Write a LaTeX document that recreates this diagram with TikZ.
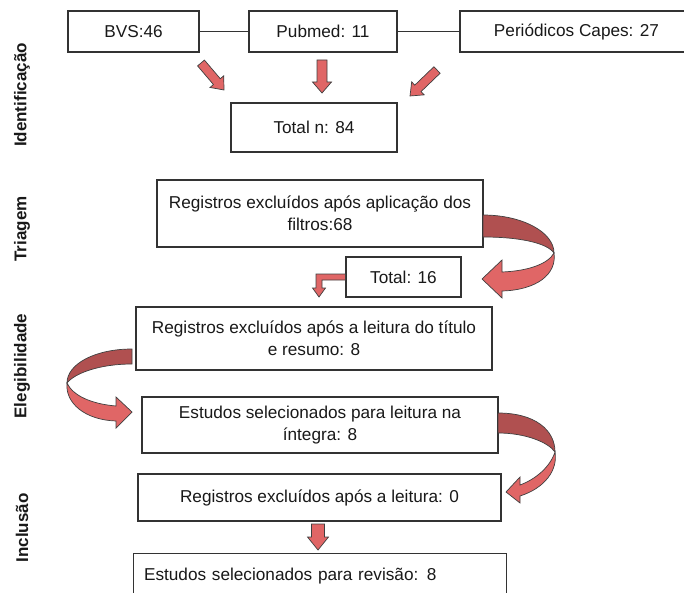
\documentclass[tikz,border=0pt]{standalone}
\usepackage{fontspec}
\setmainfont{Liberation Sans}
\usetikzlibrary{calc}
\definecolor{arrlight}{HTML}{E06666}
\definecolor{arrdark}{HTML}{B05050}
\definecolor{edgecol}{HTML}{333333}
\newcommand{\blockarr}[5]{%
  \coordinate (bC) at ($(#2)!#5!(#1)$);
  \draw[blk] ($(#1)!#3!90:(#2)$) -- ($(bC)!#3!90:(#2)$) -- ($(bC)!#4!90:(#2)$) -- (#2)
    -- ($(bC)!#4!-90:(#2)$) -- ($(bC)!#3!-90:(#2)$) -- ($(#1)!#3!-90:(#2)$) -- cycle;}
\begin{document}
\begin{tikzpicture}[x=1pt,y=-1pt,
  box/.style={draw=edgecol, line width=1.1pt, fill=white, inner sep=0pt, align=center,
    font=\fontsize{17.2}{22}\selectfont, text=black!90},
  lab/.style={rotate=90, font=\fontsize{17}{20}\selectfont\bfseries, text=black!90},
  conn/.style={draw=edgecol, line width=1pt},
  blk/.style={fill=arrlight, draw=black!75, line width=0.7pt, line join=miter},
  dk/.style={fill=arrdark, draw=black!75, line width=0.7pt}]
\useasboundingbox (0,0) rectangle (684,593);

% labels
\node[lab] (lid) at (22,95) {Identificação};
\node[lab] (ltr) at (22,229) {Triagem};
\node[lab] (lel) at (22,366) {Elegibilidade};
\node[lab] (lin) at (22,528) {Inclusão};

% boxes
\node[box, minimum width=131pt, minimum height=41pt] (bvs) at (133.5,31.5) {BVS:46};
\node[box, minimum width=148pt, minimum height=41pt] (pub) at (323,31.5) {Pubmed: 11};
\node[box, minimum width=233pt, minimum height=41pt] (cap) at (576.5,31.5) {Periódicos Capes: 27};
\node[box, minimum width=166pt, minimum height=49pt] (tot) at (314,127.5) {Total n: 84};
\node[box, minimum width=326pt, minimum height=67pt] (fil) at (320,213.5) {Registros excluídos após aplicação dos\\filtros:68};
\node[box, minimum width=115pt, minimum height=40pt] (t16) at (403.5,277) {Total: 16};
\node[box, minimum width=356pt, minimum height=63pt] (tit) at (314,338.5) {Registros excluídos após a leitura do título\\e resumo: 8};
\node[box, minimum width=356pt, minimum height=56pt] (int) at (320,425) {Estudos selecionados para leitura na\\íntegra: 8};
\node[box, minimum width=363pt, minimum height=47pt] (lei) at (319.5,497.5) {Registros excluídos após a leitura: 0};
\node[box, anchor=north west, minimum width=373pt, minimum height=44pt, text width=352pt,
  inner xsep=10.5pt, align=left] (rev) at (133,553) {Estudos selecionados para revisão: 8};

% connectors between sources
\draw[conn] (bvs) -- (pub);
\draw[conn] (pub) -- (cap);

% straight block arrows
\coordinate (a1s) at (201,63); \coordinate (a1e) at (224,90);
\blockarr{a1s}{a1e}{4.5pt}{9pt}{11pt}
\coordinate (a2s) at (322,60); \coordinate (a2e) at (322,93);
\blockarr{a2s}{a2e}{5pt}{9.5pt}{11pt}
\coordinate (a3s) at (437,70); \coordinate (a3e) at (410,96);
\blockarr{a3s}{a3e}{4.5pt}{9pt}{11pt}
\coordinate (a4s) at (318,524); \coordinate (a4e) at (318,550);
\blockarr{a4s}{a4e}{6.5pt}{10.5pt}{13pt}

% bent arrow from Total: 16
\draw[blk] ($(t16.west)+(0,-3)$) -- (316,274) -- (316,288) -- (312.5,288) -- (319,297)
  -- (325.5,288) -- (322,288) -- (322,280) -- ($(t16.west)+(0,3)$) -- cycle;

% curved arrow A (filtros -> Total: 16)
\draw[dk] (483,215) .. controls (522,215) and (554,232) .. (554,253)
  .. controls (547,243) and (520,237) .. (483,237) -- cycle;
\draw[blk] (554,253) .. controls (557,274) and (537,290) .. (502,291) -- (502,298) -- (482,279)
  -- (502,260) -- (502,272) .. controls (528,271) and (548,264) .. (554,253) -- cycle;

% curved arrow B (titulo -> integra)
\draw[dk] (132,349) .. controls (95,349) and (67,364) .. (67,383)
  .. controls (75,373) and (100,364) .. (132,364) -- cycle;
\draw[blk] (67,383) .. controls (65,403) and (85,420) .. (116,421) -- (116,428) -- (132,412)
  -- (116,397) -- (116,406) .. controls (92,404) and (73,396) .. (67,383) -- cycle;

% curved arrow C (integra -> leitura 0)
\draw[dk] (498,413) .. controls (535,413) and (555,430) .. (555,452)
  .. controls (548,442) and (525,433) .. (498,433) -- cycle;
\draw[blk] (555,452) .. controls (558,470) and (545,488) .. (520,496) -- (520,503) -- (506,492)
  -- (520,477) -- (520,485) .. controls (536,479) and (550,467) .. (555,452) -- cycle;
\end{tikzpicture}
\end{document}
